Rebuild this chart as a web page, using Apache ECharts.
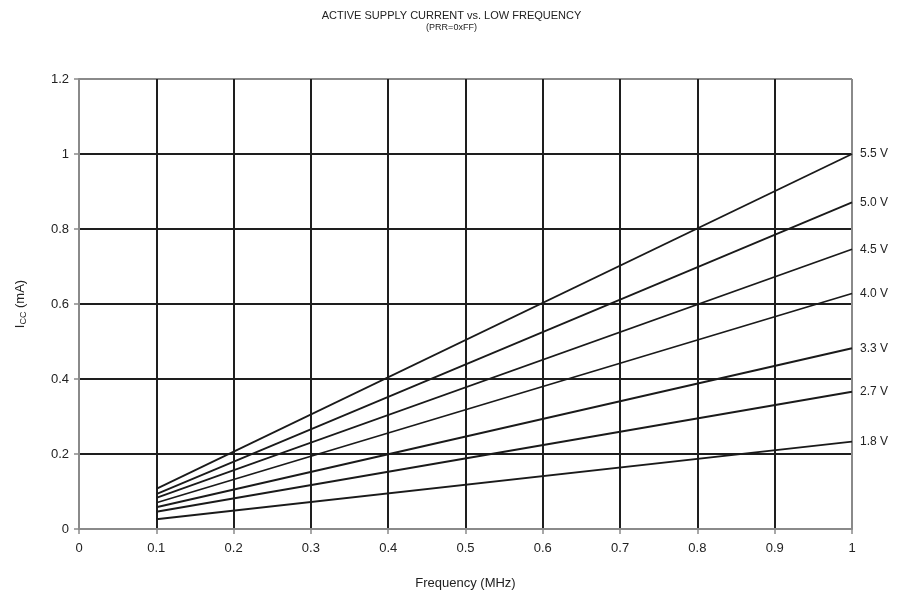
<!DOCTYPE html>
<html>
<head>
<meta charset="utf-8">
<script src="https://cdn.jsdelivr.net/npm/echarts@6/dist/echarts.min.js"></script>
<style>html,body{margin:0;padding:0;background:#fff}#c{width:903px;height:596px}</style>
</head>
<body>
<div id="c"></div>
<script>
var seriesNames = ['5.5 V', '5.0 V', '4.5 V', '4.0 V', '3.3 V', '2.7 V', '1.8 V'];
var freqs = [0.1, 1.0];
var v55 = [0.107, 1.000];
var v50 = [0.093, 0.871];
var v45 = [0.083, 0.746];
var v40 = [0.070, 0.628];
var v33 = [0.058, 0.482];
var v27 = [0.046, 0.366];
var v18 = [0.026, 0.233];
var xTicks = [0, 0.1, 0.2, 0.3, 0.4, 0.5, 0.6, 0.7, 0.8, 0.9, 1];
var yTicks = [0, 0.2, 0.4, 0.6, 0.8, 1, 1.2];

var allValues = [v55, v50, v45, v40, v33, v27, v18];
var chart = echarts.init(document.getElementById('c'));
var gray = '#8a8a8a', dark = '#1e1e1e';
var xColors = xTicks.map(function(t, i){ return (i === 0 || i === xTicks.length - 1) ? gray : dark; });
var yColors = yTicks.map(function(t, i){ return (i === 0 || i === yTicks.length - 1) ? gray : dark; });

chart.setOption({
  animation: false,
  backgroundColor: '#fff',
  title: {
    text: 'ACTIVE SUPPLY CURRENT vs. LOW FREQUENCY',
    subtext: '(PRR=0xFF)',
    left: 'center', top: 5, itemGap: 2,
    textStyle: {fontSize: 11, fontWeight: 'normal', color: '#222', fontFamily: 'Liberation Sans, Arial, sans-serif'},
    subtextStyle: {fontSize: 9, color: '#222', fontFamily: 'Liberation Sans, Arial, sans-serif'}
  },
  grid: {left: 79, right: 51, top: 79, bottom: 67},
  xAxis: {
    type: 'value', min: 0, max: 1, interval: 0.1,
    name: 'Frequency (MHz)', nameLocation: 'middle', nameGap: 48,
    nameTextStyle: {fontSize: 13, color: '#222', fontFamily: 'Liberation Sans, Arial, sans-serif'},
    axisLine: {show: true, lineStyle: {color: gray, width: 2}},
    axisTick: {show: true, length: 5, lineStyle: {color: gray, width: 1.5}},
    axisLabel: {fontSize: 13, color: '#222', margin: 13, fontFamily: 'Liberation Sans, Arial, sans-serif',
      formatter: function(v){ return String(Math.round(v*10)/10); }},
    splitLine: {show: true, lineStyle: {color: xColors, width: 2}}
  },
  yAxis: {
    type: 'value', min: 0, max: 1.2, interval: 0.2,
    name: 'I{sub|CC} (mA)', nameLocation: 'middle', nameGap: 51, nameRotate: 90,
    nameTextStyle: {fontSize: 13, color: '#222', fontFamily: 'Liberation Sans, Arial, sans-serif',
      rich: {sub: {fontSize: 9, color: '#222', verticalAlign: 'bottom', padding: [6, 0, 0, 0], fontFamily: 'Liberation Sans, Arial, sans-serif'}}},
    axisLine: {show: true, lineStyle: {color: gray, width: 2}},
    axisTick: {show: true, length: 5, lineStyle: {color: gray, width: 1.5}},
    axisLabel: {fontSize: 13, color: '#222', margin: 10, fontFamily: 'Liberation Sans, Arial, sans-serif',
      formatter: function(v){ return String(Math.round(v*10)/10); }},
    splitLine: {show: true, lineStyle: {color: yColors, width: 2}}
  },
  series: seriesNames.map(function(n, i){
    return {
      name: n, type: 'line', showSymbol: false, symbol: 'none',
      lineStyle: {color: '#1a1a1a', width: 1.8},
      data: freqs.map(function(f, j){ return [f, allValues[i][j]]; }),
      endLabel: {show: true, formatter: '{a}', distance: 8, fontSize: 12, color: '#222', fontFamily: 'Liberation Sans, Arial, sans-serif'},
      z: 3
    };
  })
});
</script>
</body>
</html>
